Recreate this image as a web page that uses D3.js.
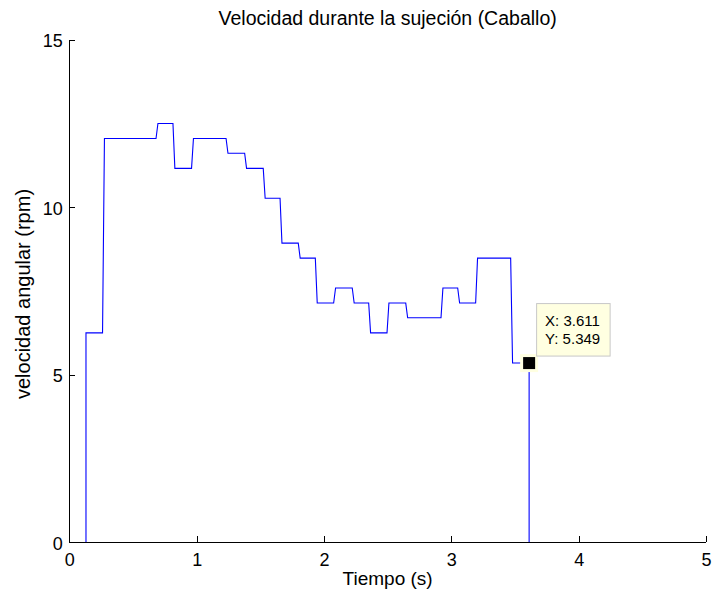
<!DOCTYPE html>
<html lang="es">
<head>
  <meta charset="UTF-8" />
  <title>Velocidad durante la sujeción</title>
  <script src="https://d3js.org/d3.v7.min.js"></script>
  <style>
    html, body { margin: 0; padding: 0; background: #fff; }
    svg { display: block; font-family: "Liberation Sans", Arial, sans-serif; }
    .axis path, .axis line { stroke: #000; stroke-width: 1px; shape-rendering: crispEdges; }
    .axis text { font-size: 18px; fill: #000; }
    .trace { fill: none; stroke: #0000ff; stroke-width: 1.1px; }
    .tip-box { fill: #ffffe1; stroke: #c8c8c8; stroke-width: 1px; }
    .tip-text { font-size: 15px; fill: #000; }
  </style>
</head>
<body>
  <svg id="chart" width="714" height="599"></svg>

  <script>
    // step instants (s) and the speed held after each one (rpm)
    const stepTimes = [0.131, 0.261, 0.681, 0.814, 0.960, 1.231, 1.377, 1.523, 1.655, 1.798,
                       1.932, 2.076, 2.222, 2.351, 2.495, 2.642, 2.919, 3.050, 3.191, 3.466];
    const stepLevels = [6.25, 12.05, 12.5, 11.16, 12.05, 11.61, 11.16, 10.27, 8.93, 8.48,
                        7.14, 7.59, 7.14, 6.25, 7.14, 6.70, 7.59, 7.14, 8.48, 5.349];
    const endTime = 3.611;
    const rampTime = 0.015;          // sampling makes each jump slightly slanted
    const xTicks = [0, 1, 2, 3, 4, 5];
    const yTicks = [0, 5, 10, 15];
    const tipPoint = { t: 3.611, v: 5.349 };

    const svg = d3.select('#chart');
    const plotL = 69.3, plotR = 706, plotT = 39.7, plotB = 542.3;
    const x = d3.scaleLinear().domain([0, 5]).range([plotL, plotR]);
    const y = d3.scaleLinear().domain([0, 15]).range([plotB, plotT]);

    // build the polyline: vertical rise from zero, slanted steps, vertical drop at the end
    const pts = [[stepTimes[0], 0], [stepTimes[0], stepLevels[0]]];
    for (let i = 1; i < stepTimes.length; i++) {
      pts.push([stepTimes[i], stepLevels[i - 1]]);
      pts.push([stepTimes[i] + rampTime, stepLevels[i]]);
    }
    pts.push([endTime, stepLevels[stepLevels.length - 1]]);
    pts.push([endTime, 0]);

    svg.append('path').datum(pts).attr('class', 'trace')
      .attr('d', d3.line().x(d => x(d[0])).y(d => y(d[1])));

    // axes (box off, ticks pointing inward like MATLAB)
    const xAxis = svg.append('g').attr('class', 'axis')
      .attr('transform', `translate(0,${plotB})`)
      .call(d3.axisBottom(x).tickValues(xTicks).tickFormat(d3.format('d')).tickSizeInner(-6).tickSizeOuter(0));
    xAxis.selectAll('text').attr('y', 23.7).attr('dy', null);

    const yAxis = svg.append('g').attr('class', 'axis')
      .attr('transform', `translate(${plotL},0)`)
      .call(d3.axisLeft(y).tickValues(yTicks).tickFormat(d3.format('d')).tickSizeInner(-6).tickSizeOuter(0));
    yAxis.selectAll('text').attr('x', -6.5).attr('dy', null).attr('y', 6.8);
    xAxis.select('.domain').attr('d', `M${plotL},0H${plotR}`);
    yAxis.select('.domain').attr('d', `M0,${plotB}V${plotT}`);

    svg.append('text').attr('x', (plotL + plotR) / 2).attr('y', 24.5)
      .attr('text-anchor', 'middle').style('font-size', '19.5px')
      .text('Velocidad durante la sujeción (Caballo)');
    svg.append('text').attr('x', (plotL + plotR) / 2).attr('y', 585)
      .attr('text-anchor', 'middle').style('font-size', '19px')
      .text('Tiempo (s)');
    svg.append('text').attr('transform', 'translate(29.5,294) rotate(-90)')
      .attr('text-anchor', 'middle').style('font-size', '20px')
      .text('velocidad angular (rpm)');

    // data tip
    const mx = x(tipPoint.t), my = y(tipPoint.v);
    svg.append('rect').attr('x', mx - 9).attr('y', my - 9).attr('width', 18).attr('height', 18)
      .attr('fill', '#ffffe1');
    svg.append('rect').attr('x', mx - 6).attr('y', my - 6).attr('width', 12).attr('height', 12)
      .attr('fill', '#000');
    const bx = mx + 7.5, by = my - 59.5;
    svg.append('rect').attr('class', 'tip-box').attr('x', bx).attr('y', by)
      .attr('width', 73.5).attr('height', 52.5);
    svg.append('text').attr('class', 'tip-text').attr('x', bx + 8.5).attr('y', by + 22.5)
      .text(`X: ${tipPoint.t.toFixed(3)}`);
    svg.append('text').attr('class', 'tip-text').attr('x', bx + 8.5).attr('y', by + 40)
      .text(`Y: ${tipPoint.v.toFixed(3)}`);
  </script>
</body>
</html>
